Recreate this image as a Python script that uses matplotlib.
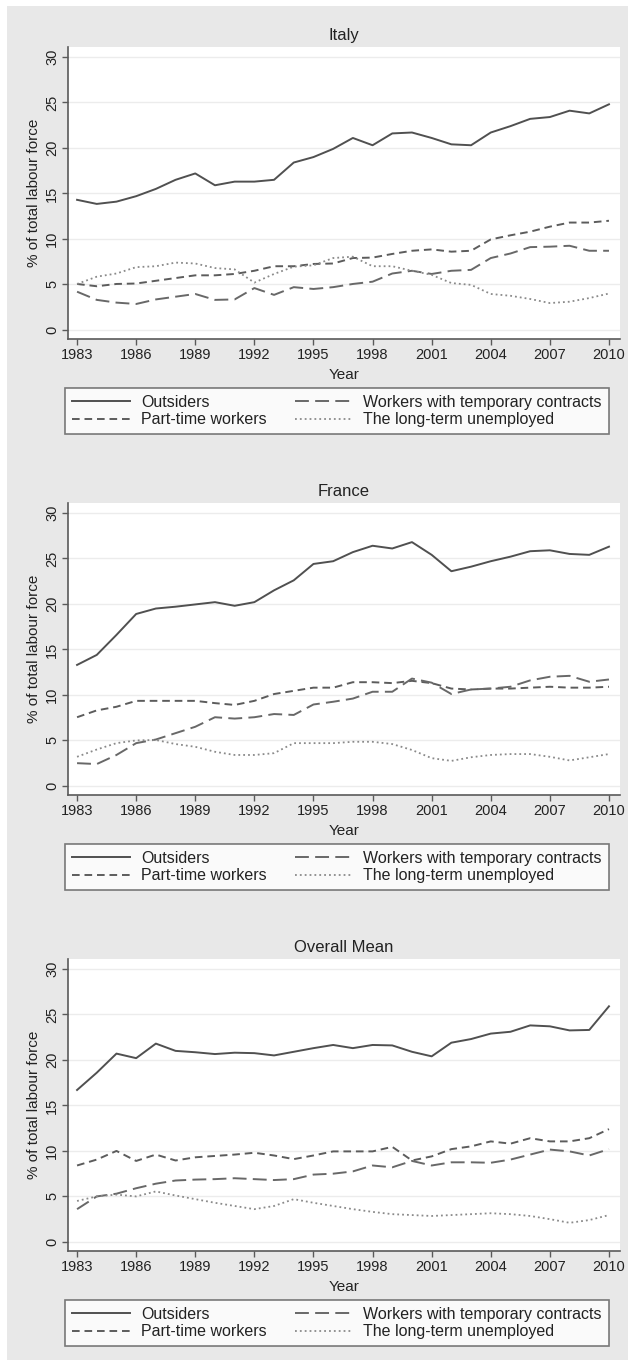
import numpy as np
import matplotlib
matplotlib.use("Agg")
import matplotlib.pyplot as plt
from matplotlib.patches import Rectangle

plt.rcParams['font.family'] = ['Liberation Sans', 'DejaVu Sans']
plt.rcParams['lines.scale_dashes'] = False

years = list(range(1983, 2011))

# Italy
italy_outsiders = [14.3, 13.85, 14.1, 14.7, 15.5, 16.5, 17.2, 15.9, 16.3, 16.3, 16.5, 18.4, 19.0, 19.9,
                   21.1, 20.3, 21.6, 21.7, 21.1, 20.4, 20.3, 21.7, 22.4, 23.2, 23.4, 24.1, 23.8, 24.8]
italy_parttime = [5.05, 4.8, 5.05, 5.1, 5.4, 5.7, 6.0, 6.0, 6.15, 6.5, 7.0, 7.0, 7.25, 7.3,
                  7.9, 7.95, 8.35, 8.7, 8.85, 8.6, 8.7, 9.95, 10.4, 10.8, 11.35, 11.8, 11.8, 12.0]
italy_temporary = [4.2, 3.3, 3.0, 2.85, 3.35, 3.65, 3.95, 3.3, 3.35, 4.6, 3.85, 4.7, 4.5, 4.7,
                   5.05, 5.3, 6.2, 6.5, 6.15, 6.5, 6.6, 7.9, 8.4, 9.1, 9.15, 9.25, 8.7, 8.7]
italy_longterm = [5.05, 5.85, 6.2, 6.9, 7.0, 7.4, 7.3, 6.8, 6.65, 5.2, 6.15, 6.95, 7.1, 7.9,
                  8.05, 7.0, 7.0, 6.5, 6.05, 5.15, 4.95, 3.95, 3.75, 3.4, 2.95, 3.1, 3.5, 4.0]

# France
france_outsiders = [13.3, 14.4, 16.6, 18.9, 19.5, 19.7, 19.95, 20.2, 19.8, 20.2, 21.5, 22.6, 24.4, 24.7,
                    25.7, 26.4, 26.1, 26.8, 25.4, 23.6, 24.1, 24.7, 25.2, 25.8, 25.9, 25.5, 25.4, 26.3]
france_parttime = [7.55, 8.3, 8.7, 9.35, 9.35, 9.35, 9.35, 9.1, 8.9, 9.35, 10.1, 10.45, 10.8, 10.8,
                   11.4, 11.4, 11.3, 11.55, 11.3, 10.7, 10.6, 10.7, 10.7, 10.8, 10.9, 10.8, 10.8, 10.9]
france_temporary = [2.5, 2.4, 3.4, 4.7, 5.1, 5.8, 6.5, 7.55, 7.4, 7.55, 7.9, 7.8, 8.95, 9.25,
                    9.6, 10.35, 10.35, 11.8, 11.35, 10.1, 10.6, 10.7, 10.9, 11.6, 12.0, 12.1, 11.45, 11.7]
france_longterm = [3.2, 4.0, 4.7, 5.0, 5.05, 4.6, 4.3, 3.75, 3.4, 3.4, 3.6, 4.7, 4.7, 4.7,
                   4.85, 4.85, 4.6, 3.95, 3.05, 2.75, 3.15, 3.4, 3.5, 3.5, 3.2, 2.8, 3.15, 3.5]

# Overall mean
mean_outsiders = [16.7, 18.6, 20.7, 20.2, 21.8, 21.0, 20.85, 20.65, 20.8, 20.75, 20.5, 20.9, 21.3, 21.65,
                  21.3, 21.65, 21.6, 20.9, 20.4, 21.9, 22.3, 22.9, 23.1, 23.8, 23.7, 23.25, 23.3, 25.9]
mean_parttime = [8.4, 9.05, 10.0, 8.9, 9.6, 8.95, 9.3, 9.45, 9.6, 9.8, 9.5, 9.1, 9.5, 9.95,
                 9.95, 9.95, 10.45, 8.95, 9.4, 10.2, 10.5, 11.05, 10.8, 11.4, 11.05, 11.05, 11.4, 12.4]
mean_temporary = [3.6, 5.0, 5.3, 5.9, 6.4, 6.75, 6.85, 6.9, 7.0, 6.9, 6.8, 6.9, 7.4, 7.5,
                  7.75, 8.4, 8.2, 8.9, 8.4, 8.75, 8.75, 8.7, 9.05, 9.6, 10.15, 9.95, 9.5, 10.2]
mean_longterm = [4.5, 5.0, 5.2, 5.0, 5.55, 5.1, 4.7, 4.3, 3.95, 3.6, 3.95, 4.7, 4.3, 3.95,
                 3.6, 3.3, 3.05, 2.95, 2.85, 2.95, 3.05, 3.15, 3.05, 2.85, 2.5, 2.1, 2.4, 2.95]

panels = [
    ("Italy", italy_outsiders, italy_parttime, italy_temporary, italy_longterm),
    ("France", france_outsiders, france_parttime, france_temporary, france_longterm),
    ("Overall Mean", mean_outsiders, mean_parttime, mean_temporary, mean_longterm),
]

W, H = 628, 1367
fig = plt.figure(figsize=(W / 100, H / 100), dpi=100, facecolor='white')
fig.patches.append(Rectangle((7 / W, 1 - 1360 / H), 1, (1360 - 6) / H, transform=fig.transFigure,
                             facecolor='#e8e8e8', edgecolor='none', zorder=-10))

def px(x0, y0, x1, y1):
    return [x0 / W, 1 - y1 / H, (x1 - x0) / W, (y1 - y0) / H]

for i, (name, outs, pt, tmp, lt) in enumerate(panels):
    off = i * 456
    ax = fig.add_axes(px(68, 47 + off, 620, 339 + off))
    ax.set_facecolor('white')
    ax.plot(years, outs, color='#505050', lw=1.4, label='Outsiders')
    ax.plot(years, pt, color='#5c5c5c', lw=1.4, dashes=(5.5, 3.5), label='Part-time workers')
    ax.plot(years, tmp, color='#686868', lw=1.4, dashes=(10, 4.5), label='Workers with temporary contracts')
    ax.plot(years, lt, color='#8a8a8a', lw=1.3, dashes=(1.3, 2.2), label='The long-term unemployed')

    ax.set_xlim(1982.54, 2010.56)
    ax.set_ylim(-1.0, 31.1)
    ax.set_xticks(range(1983, 2011, 3))
    ax.set_yticks(range(0, 31, 5))
    ax.yaxis.grid(True, color='#ececec', lw=1.0)
    ax.set_axisbelow(True)
    for s in ['top', 'right']:
        ax.spines[s].set_visible(False)
    for s in ['left', 'bottom']:
        ax.spines[s].set_color('#5a5a5a')
        ax.spines[s].set_linewidth(1.2)
    ax.tick_params(axis='both', colors='#5a5a5a', labelcolor='#222222', labelsize=10.5,
                   length=4, width=1, pad=2.5)
    plt.setp(ax.get_yticklabels(), rotation=90, va='center')
    ax.set_title(name, fontsize=12, color='#222222', pad=5)
    ax.set_ylabel('% of total labour force', fontsize=11, color='#222222')
    ax.yaxis.set_label_coords(-0.049, 0.5)
    ax.set_xlabel('Year', fontsize=11, color='#222222')
    ax.xaxis.set_label_coords(0.5, -0.099)

    h, l = ax.get_legend_handles_labels()
    leg = fig.legend(h, l, ncol=2,
                     bbox_to_anchor=(337 / W, 1 - (411 + off) / H),
                     loc='center', fontsize=11.5, frameon=True, fancybox=False,
                     handlelength=3.6, handletextpad=0.7, columnspacing=1.75,
                     borderaxespad=0.0, labelspacing=0.15, borderpad=0.45)
    leg.get_frame().set_edgecolor('#5a5a5a')
    leg.get_frame().set_linewidth(1.2)
    for t in leg.get_texts():
        t.set_color('#222222')

fig.savefig('out.png', dpi=100, facecolor='white')
